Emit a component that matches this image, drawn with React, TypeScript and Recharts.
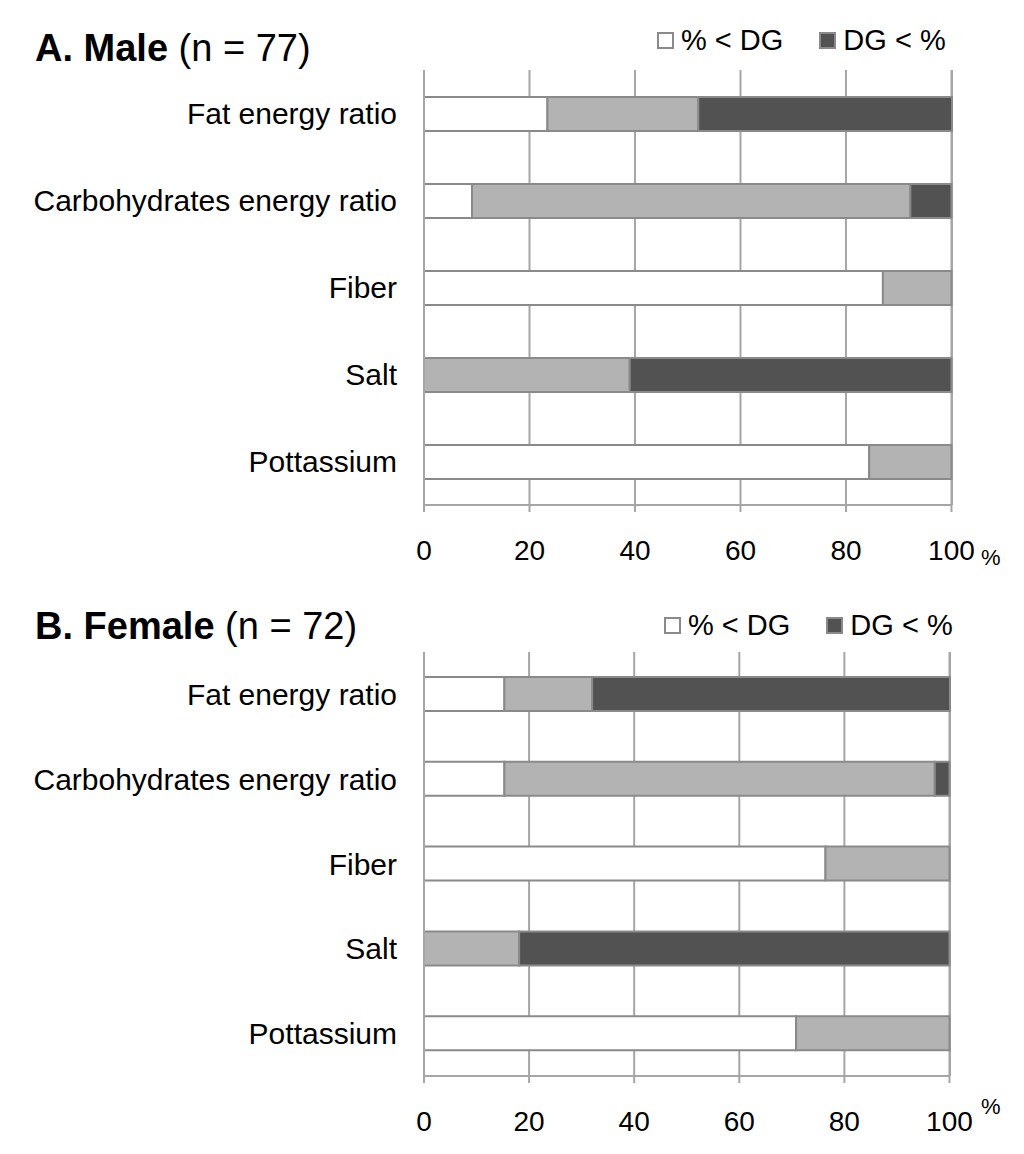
import React from "react";
import { BarChart, Bar, XAxis, YAxis, CartesianGrid, Legend } from "recharts";

const categories = [
  "Fat energy ratio",
  "Carbohydrates energy ratio",
  "Fiber",
  "Salt",
  "Pottassium",
];

// percent of subjects: below DG, within DG, above DG
const maleBelow = [23.4, 9.1, 87.0, 0, 84.4];
const maleWithin = [28.6, 83.1, 13.0, 39.0, 15.6];
const maleAbove = [48.1, 7.8, 0, 61.0, 0];

const femaleBelow = [15.3, 15.3, 76.4, 0, 70.8];
const femaleWithin = [16.7, 81.9, 23.6, 18.1, 29.2];
const femaleAbove = [68.1, 2.8, 0, 81.9, 0];

const xTicks = [0, 20, 40, 60, 80, 100];
const legendKeys = ["below", "above"];

const WHITE = "#ffffff";
const GRAY = "#b3b3b3";
const DARK = "#525252";
const EDGE = "#8a8a8a";
const GRID = "#a6a6a6";
const FONT = "'Liberation Sans', Arial, Helvetica, sans-serif";

const buildRows = (below: number[], within: number[], above: number[]) =>
  categories.map((name, i) => ({
    name,
    below: below[i],
    within: within[i],
    above: above[i],
  }));

const maleRows = buildRows(maleBelow, maleWithin, maleAbove);
const femaleRows = buildRows(femaleBelow, femaleWithin, femaleAbove);

const LegendBox = ({ payload }: any) => {
  const items = (payload || [])
    .filter((e: any) => legendKeys.includes(e.dataKey))
    .sort((a: any, b: any) => legendKeys.indexOf(a.dataKey) - legendKeys.indexOf(b.dataKey));
  return (
    <div
      style={{
        display: "flex",
        alignItems: "center",
        fontSize: 29,
        color: "#000",
        fontFamily: FONT,
        whiteSpace: "nowrap",
      }}
    >
      {items.map((entry: any, i: number) => (
        <div
          key={entry.dataKey}
          style={{ display: "flex", alignItems: "center", marginLeft: i === 0 ? 0 : 36 }}
        >
          <span
            style={{
              display: "inline-block",
              width: 13,
              height: 13,
              background: entry.color,
              border: `2px solid ${EDGE}`,
              marginRight: 7,
            }}
          />
          <span>{entry.value}</span>
        </div>
      ))}
    </div>
  );
};

type PanelProps = {
  top: number;
  height: number;
  rightMargin: number;
  bold: string;
  rest: string;
  rows: typeof maleRows;
  legendLeft: number;
  legendTop: number;
  unitTop: number;
  titleTop: number;
};

function Panel({ top, height, rightMargin, bold, rest, rows, legendLeft, legendTop, unitTop, titleTop }: PanelProps) {
  return (
    <div style={{ position: "absolute", left: 0, top, width: 1024, height }}>
      <div
        style={{
          position: "absolute",
          left: 35,
          top: titleTop,
          fontSize: 38,
          color: "#000",
          fontFamily: FONT,
          whiteSpace: "nowrap",
        }}
      >
        <b>{bold}</b> {rest}
      </div>
      <BarChart
        width={1024}
        height={height}
        data={rows}
        layout="vertical"
        margin={{ top: 70, right: rightMargin, bottom: 0, left: 0 }}
        style={{ fontFamily: FONT }}
      >
        <CartesianGrid horizontal={false} stroke={GRID} strokeWidth={2} />
        <XAxis
          type="number"
          domain={[0, 100]}
          ticks={xTicks}
          interval={0}
          height={60}
          axisLine={{ stroke: GRID, strokeWidth: 2 }}
          tickLine={{ stroke: GRID, strokeWidth: 2 }}
          tickSize={7}
          tickMargin={28}
          tick={{ fontSize: 28, fill: "#000" }}
        />
        <YAxis
          type="category"
          dataKey="name"
          width={424}
          axisLine={{ stroke: GRID, strokeWidth: 2 }}
          tickLine={false}
          tickSize={0}
          tickMargin={27}
          tick={{ fontSize: 30, fill: "#000" }}
        />
        <Legend
          layout="horizontal"
          verticalAlign="middle"
          align="center"
          width={360}
          wrapperStyle={{ left: legendLeft, top: legendTop }}
          content={LegendBox}
        />
        <Bar dataKey="below" name="% < DG" stackId="a" fill={WHITE} stroke={EDGE} strokeWidth={2} barSize={34} isAnimationActive={false} />
        <Bar dataKey="within" name="Within DG" stackId="a" fill={GRAY} stroke={EDGE} strokeWidth={2} barSize={34} legendType="none" isAnimationActive={false} />
        <Bar dataKey="above" name="DG < %" stackId="a" fill={DARK} stroke={EDGE} strokeWidth={2} barSize={34} isAnimationActive={false} />
      </BarChart>
      <div
        style={{
          position: "absolute",
          left: 981,
          top: unitTop,
          fontSize: 22,
          color: "#000",
          fontFamily: FONT,
        }}
      >
        %
      </div>
    </div>
  );
}

export default function App() {
  return (
    <div style={{ position: "absolute", left: 0, top: 0, width: 1024, height: 1154, background: "#fff" }}>
      <Panel
        top={0}
        height={565}
        rightMargin={72}
        bold="A. Male"
        rest="(n = 77)"
        rows={maleRows}
        legendLeft={657}
        legendTop={24}
        unitTop={545}
        titleTop={27}
      />
      <Panel
        top={582}
        height={554}
        rightMargin={74}
        bold="B. Female"
        rest="(n = 72)"
        rows={femaleRows}
        legendLeft={664}
        legendTop={27}
        unitTop={512}
        titleTop={23}
      />
    </div>
  );
}
